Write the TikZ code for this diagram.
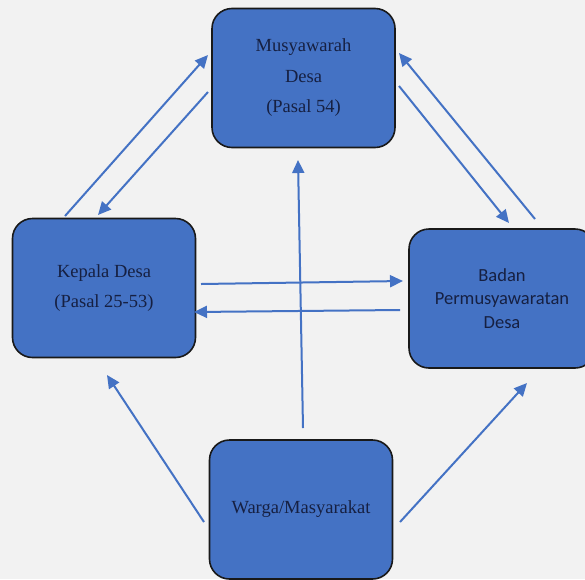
\documentclass[tikz,border=0pt]{standalone}
\usepackage{fontspec}
\setmainfont{Liberation Serif}
\newfontfamily\calfont{Carlito}
\usetikzlibrary{arrows.meta}
\definecolor{bgc}{HTML}{F2F2F2}
\definecolor{boxc}{HTML}{4472C4}
\definecolor{txtc}{RGB}{22,32,66}
\definecolor{arrc}{HTML}{4472C4}
\tikzset{
  boxnode/.style={draw=black!90, line width=1.6pt, fill=boxc, rounded corners=20pt,
    minimum width=183pt, minimum height=139pt, inner sep=0pt, align=center, text=txtc,
    font=\fontsize{18.5}{30.5}\selectfont},
  conn/.style={draw=arrc, line width=2pt, -{Triangle[length=13pt,width=12pt]}}
}
\begin{document}
\begin{tikzpicture}[x=1pt,y=-1pt]
\useasboundingbox (0,0) rectangle (585,579);
\clip (0,0) rectangle (585,579);
\fill[bgc] (0,0) rectangle (585,579);

\node[boxnode] (musy) at (303.5,78) {Musyawarah\\Desa\\(Pasal 54)};
\node[boxnode] (kepala) at (104,288) {Kepala Desa\\(Pasal 25-53)};
\node[boxnode, minimum width=186pt, font=\calfont\fontsize{18.5}{23.5}\selectfont] (bpd) at (502,298.5) {Badan\\Permusyawaratan\\Desa};
\node[boxnode] (warga) at (301,509.5) {Warga/Masyarakat};

% endpoints
\coordinate (a1s) at (65,216);  \coordinate (a1e) at (208,55);
\coordinate (a2s) at (208,92);  \coordinate (a2e) at (98,215);
\coordinate (a3s) at (399,86);  \coordinate (a3e) at (509,223);
\coordinate (a4s) at (535,219); \coordinate (a4e) at (399,53);
\coordinate (a5s) at (201,284); \coordinate (a5e) at (403,281);
\coordinate (a6s) at (400,310); \coordinate (a6e) at (194,312);
\coordinate (a7s) at (303,428); \coordinate (a7e) at (298,160);
\coordinate (a8s) at (204,522); \coordinate (a8e) at (107,375);
\coordinate (a9s) at (400,522); \coordinate (a9e) at (527,383);

\draw[conn] (a1s) -- (a1e);
\draw[conn] (a2s) -- (a2e);
\draw[conn] (a3s) -- (a3e);
\draw[conn] (a4s) -- (a4e);
\draw[conn] (a5s) -- (a5e);
\draw[conn] (a6s) -- (a6e);
\draw[conn] (a7s) -- (a7e);
\draw[conn] (a8s) -- (a8e);
\draw[conn] (a9s) -- (a9e);
\end{tikzpicture}
\end{document}
